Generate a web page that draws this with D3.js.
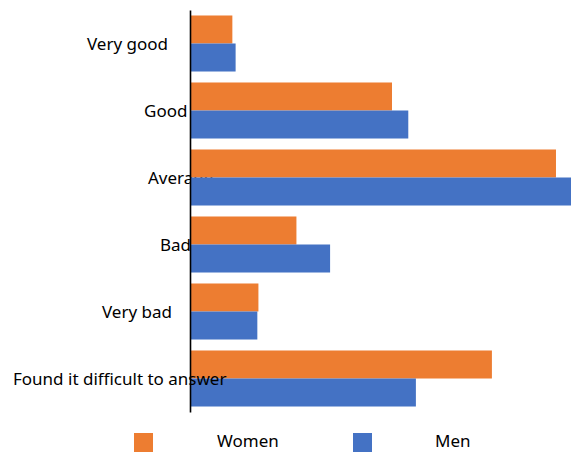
<!DOCTYPE html>
<html>
<head>
<meta charset="utf-8">
<script src="https://cdn.jsdelivr.net/npm/d3@7"></script>
<style>
  html, body { margin: 0; padding: 0; background: #fff; }
  svg { display: block; font-family: "Noto Sans", "Open Sans", sans-serif; }
</style>
</head>
<body>
<div id="chart"></div>
<script>
// categories, top to bottom
var categories = ["Very good", "Good", "Average", "Bad", "Very bad", "Found it difficult to answer"];
// share of answers, %
var women = [3.9, 18.6, 33.7, 9.8, 6.3, 27.8];
var men   = [4.2, 20.1, 35.8, 12.9, 6.2, 20.8];
var seriesNames = ["Women", "Men"];

// layout only: left edge of each category label (labels were placed by hand)
var labelLeft = [87, 144, 148, 160, 102, 13];

var width = 571, height = 452;
var colors = { Women: "#ED7D31", Men: "#4472C4" };

var svg = d3.select("#chart").append("svg")
  .attr("width", width)
  .attr("height", height);

var y = d3.scaleBand()
  .domain(categories)
  .range([10, 412])
  .paddingInner(0.164)
  .paddingOuter(0.082);

var ySub = d3.scaleBand()
  .domain(seriesNames)
  .range([0, y.bandwidth()]);

var x = d3.scaleLinear()
  .domain([0, 100])
  .range([190, 190 + 1086]);

var rows = categories.map(function(c, i) {
  return { cat: c, Women: women[i], Men: men[i] };
});

// category labels (drawn first, bars cover the long "Average" one)
var labels = svg.append("g").attr("class", "labels")
  .selectAll("text")
  .data(categories)
  .enter().append("text")
  .attr("x", function(d, i) { return labelLeft[i]; })
  .attr("y", function(d) { return y(d) + y.bandwidth() / 2; })
  .attr("dy", "0.38em")
  .attr("font-size", 17)
  .attr("fill", "#000")
  .text(function(d) { return d; });

// bars
var group = svg.append("g").attr("class", "bars")
  .selectAll("g")
  .data(rows)
  .enter().append("g")
  .attr("transform", function(d) { return "translate(0," + y(d.cat) + ")"; });

group.selectAll("rect")
  .data(function(d) { return seriesNames.map(function(s) { return { key: s, value: d[s] }; }); })
  .enter().append("rect")
  .attr("x", x(0))
  .attr("y", function(d) { return ySub(d.key); })
  .attr("height", ySub.bandwidth())
  .attr("width", function(d) { return x(d.value) - x(0); })
  .attr("fill", function(d) { return colors[d.key]; });

// vertical axis line
var axis = svg.append("g")
  .attr("transform", "translate(190,0)")
  .call(d3.axisLeft(y).tickSize(0).tickFormat(""));
axis.select(".domain")
  .attr("stroke", "#000")
  .attr("stroke-width", 1.6);

// the last label sits on top of its bars: move it out to the svg top
labels.filter(function(d, i) { return i === categories.length - 1; })
  .each(function() { svg.node().appendChild(this); });

// legend
var legendX = [134, 353];
var legendTextX = [217, 435];
var legend = svg.append("g").attr("class", "legend")
  .selectAll("g")
  .data(seriesNames)
  .enter().append("g");

legend.append("rect")
  .attr("x", function(d, i) { return legendX[i]; })
  .attr("y", 433)
  .attr("width", 19)
  .attr("height", 19)
  .attr("fill", function(d) { return colors[d]; });

legend.append("text")
  .attr("x", function(d, i) { return legendTextX[i]; })
  .attr("y", 447)
  .attr("font-size", 17)
  .attr("fill", "#000")
  .text(function(d) { return d; });
</script>
</body>
</html>
